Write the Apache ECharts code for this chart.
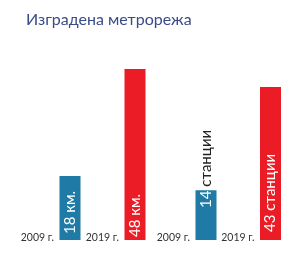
<!DOCTYPE html>
<html><head><meta charset="utf-8">
<script src="https://cdn.jsdelivr.net/npm/echarts@6/dist/echarts.min.js"></script>
<style>html,body{margin:0;padding:0;background:#fff}#c{width:290px;height:259px}</style>
</head><body><div id="c"></div>
<script>
var title = 'Изградена метрорежа';
var years = ['2009 г.', '2019 г.'];
var kmValues = [18, 48];
var kmLabels = ['18 км.', '48 км.'];
var stationValues = [14, 43];
var stationLabels = ['14 станции', '43 станции'];
var colors = ['#1f7ba5', '#ec1c26'];

var font = 'Lato';
function xAxis(gridIndex) {
  return {
    type: 'category', gridIndex: gridIndex, data: years, boundaryGap: false,
    axisLine: {show: false}, axisTick: {show: false},
    axisLabel: {interval: 0, align: 'right', verticalAlign: 'middle', margin: -2,
      padding: [0, 16, 0, 0], color: '#333', fontSize: 10.5, fontFamily: font}
  };
}
function yAxis(gridIndex) {
  return {type: 'value', gridIndex: gridIndex, min: 0, max: 60, show: false, splitLine: {show: false}};
}
var chart = echarts.init(document.getElementById('c'), null, {renderer: 'canvas'});
chart.setOption({
  animation: false,
  backgroundColor: '#fff',
  title: {text: title, left: 21, top: 7, textStyle: {fontSize: 16, fontWeight: 'normal', color: '#3a4b8a', fontFamily: font}},
  grid: [
    {left: 70, width: 65, top: 26.4, bottom: 19},
    {left: 206, width: 64.5, top: 26.4, bottom: 19}
  ],
  xAxis: [xAxis(0), xAxis(1)],
  yAxis: [yAxis(0), yAxis(1)],
  series: [
    {type: 'bar', xAxisIndex: 0, yAxisIndex: 0, barWidth: 21,
      data: kmValues.map(function (v, i) {
        return {value: v, itemStyle: {color: colors[i]},
          label: {formatter: kmLabels[i], distance: i === 0 ? 6 : 3}};
      }),
      label: {show: true, position: 'insideBottom', rotate: 90, align: 'left', verticalAlign: 'middle',
        color: '#fff', fontSize: 15, fontFamily: font}
    },
    {type: 'bar', xAxisIndex: 1, yAxisIndex: 1, barWidth: 21,
      data: stationValues.map(function (v, i) {
        var parts = stationLabels[i].split(' ');
        return {value: v, itemStyle: {color: colors[i]},
          label: i === 0
            ? {formatter: '{a|' + parts[0] + ' }{b|' + parts[1] + '}', distance: 32}
            : {formatter: '{a|' + stationLabels[i] + '}', distance: 8}};
      }),
      label: {show: true, position: 'insideBottom', rotate: 90, align: 'left', verticalAlign: 'middle',
        fontSize: 15, fontFamily: font,
        rich: {a: {color: '#fff', fontSize: 15, fontFamily: font}, b: {color: '#222', fontSize: 15, fontFamily: font}}}
    }
  ]
});
</script></body></html>
